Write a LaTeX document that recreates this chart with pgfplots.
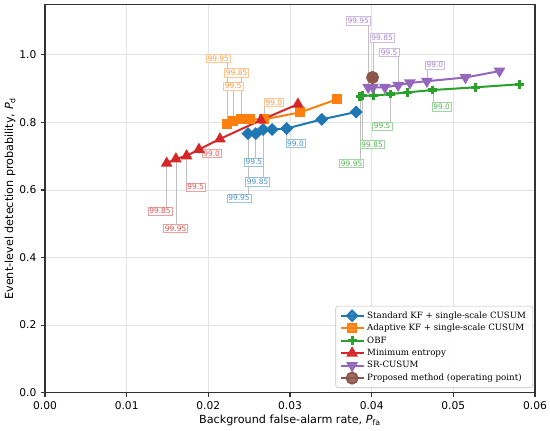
\documentclass[border=0pt]{standalone}
\usepackage{fontspec}
\setmainfont{DejaVu Sans}
\newfontfamily\legfont{DejaVu Serif}
\usepackage{pgfplots}
\pgfplotsset{compat=1.18}
\definecolor{cB}{HTML}{1F77B4}
\definecolor{cO}{HTML}{FF7F0E}
\definecolor{cG}{HTML}{2CA02C}
\definecolor{cR}{HTML}{D62728}
\definecolor{cP}{HTML}{9467BD}
\definecolor{cN}{HTML}{8C564B}
\newcommand{\leader}[3]{\draw[black!25, line width=0.5pt] (axis cs:#1,#2) -- (axis cs:#1,#3);}
\newcommand{\lab}[4]{\node[draw=#1!45, fill=white, text=#1!80!white, font=\fontsize{5.6}{6.5}\selectfont, inner sep=1pt, line width=0.4pt] at (axis cs:#2,#3) {#4};}
\begin{document}
\begin{tikzpicture}
\begin{axis}[
  scale only axis, width=367.5pt, height=291.1pt,
  xmin=0, xmax=0.06, ymin=0, ymax=1.149,
  xtick={0,0.01,0.02,0.03,0.04,0.05,0.06},
  ytick={0,0.2,0.4,0.6,0.8,1.0},
  scaled x ticks=false, scaled y ticks=false,
  /pgf/number format/assume math mode=true,
  xticklabel style={/pgf/number format/fixed, /pgf/number format/fixed zerofill, /pgf/number format/precision=2},
  yticklabel style={/pgf/number format/fixed, /pgf/number format/fixed zerofill, /pgf/number format/precision=1},
  grid=major, major grid style={black!11, line width=0.6pt},
  axis line style={black!80, line width=1pt},
  tick style={black!80, line width=0.8pt}, tick align=outside, major tick length=3pt,
  xtick pos=bottom, ytick pos=left,
  tick label style={font=\fontsize{8}{9.5}\selectfont},
  label style={font=\fontsize{8.4}{10}\selectfont},
  xlabel style={yshift=3pt},
  ylabel style={yshift=-4pt},
  xlabel={Background false-alarm rate, {\itshape P}\textsubscript{fa}},
  ylabel={Event-level detection probability, {\itshape P}\textsubscript{d}},
  legend style={at={(0.996,0.012)}, anchor=south east, font=\legfont\fontsize{6.5}{8}\selectfont, draw=black!25, rounded corners=2pt, fill=white, fill opacity=0.85, text opacity=1, row sep=-1pt},
  legend cell align=left,
]
% leader lines
\leader{0.02485}{0.767}{0.576}
\leader{0.0267}{0.779}{0.624}
\leader{0.0258}{0.767}{0.683}
\leader{0.0296}{0.782}{0.738}
\leader{0.01885}{0.720}{0.708}
\leader{0.01734}{0.701}{0.608}
\leader{0.0149}{0.679}{0.538}
\leader{0.01603}{0.692}{0.486}
\leader{0.02231}{0.796}{0.989}
\leader{0.02399}{0.809}{0.947}
\leader{0.02305}{0.803}{0.907}
\leader{0.02681}{0.809}{0.859}
\leader{0.04749}{0.896}{0.846}
\leader{0.04231}{0.884}{0.789}
\leader{0.03889}{0.879}{0.735}
\leader{0.03856}{0.876}{0.679}
\leader{0.03957}{0.904}{1.101}
\leader{0.04015}{0.904}{1.051}
\leader{0.04324}{0.910}{1.007}
\leader{0.04676}{0.922}{0.970}

\addplot[cB, line width=1.5pt, mark=square*, mark size=2.7pt, mark options={solid, rotate=45, fill=cB, draw=cB}] coordinates {
 (0.02485,0.767) (0.0258,0.767) (0.0267,0.779) (0.0278,0.779) (0.0296,0.782) (0.0339,0.809) (0.0381,0.831)};
\addlegendentry{Standard KF + single-scale CUSUM}
\addplot[cO, line width=1.5pt, mark=square*, mark size=3pt, mark options={solid, fill=cO, draw=cO}] coordinates {
 (0.02231,0.796) (0.02305,0.803) (0.02399,0.809) (0.02509,0.809) (0.02681,0.809) (0.03127,0.830) (0.0357,0.868)};
\addlegendentry{Adaptive KF + single-scale CUSUM}
\addplot[cG, line width=1.5pt, mark=+, mark size=3.3pt, mark options={solid, line width=2.4pt, draw=cG}] coordinates {
 (0.03856,0.876) (0.03889,0.879) (0.04027,0.879) (0.04231,0.884) (0.04439,0.889) (0.04749,0.896) (0.05275,0.904) (0.05814,0.913)};
\addlegendentry{OBF}
\addplot[cR, line width=1.5pt, mark=triangle*, mark size=3.6pt, mark options={solid, fill=cR, draw=cR}] coordinates {
 (0.0149,0.679) (0.01603,0.692) (0.01734,0.701) (0.01885,0.720) (0.02142,0.751) (0.02644,0.807) (0.03097,0.854)};
\addlegendentry{Minimum entropy}
\addplot[cP, line width=1.5pt, mark=triangle*, mark size=3.6pt, mark options={solid, rotate=180, fill=cP, draw=cP}] coordinates {
 (0.03957,0.904) (0.04015,0.904) (0.04162,0.904) (0.04324,0.910) (0.04468,0.917) (0.04676,0.922) (0.05149,0.933) (0.05565,0.952)};
\addlegendentry{SR-CUSUM}
\addplot[cN, line width=1.5pt, mark=*, mark size=4.1pt, mark options={solid, fill=cN, draw=cN}] coordinates {
 (0.04011,0.933)};
\addlegendentry{Proposed method (operating point)}

% labels
\lab{cB}{0.02375}{0.576}{99.95}
\lab{cB}{0.02603}{0.624}{99.85}
\lab{cB}{0.02558}{0.683}{99.5}
\lab{cB}{0.03068}{0.738}{99.0}
\lab{cR}{0.0204}{0.708}{99.0}
\lab{cR}{0.01845}{0.608}{99.5}
\lab{cR}{0.01408}{0.538}{99.85}
\lab{cR}{0.0160}{0.486}{99.95}
\lab{cO}{0.02121}{0.989}{99.95}
\lab{cO}{0.02346}{0.947}{99.85}
\lab{cO}{0.02305}{0.907}{99.5}
\lab{cO}{0.02803}{0.859}{99.0}
\lab{cG}{0.04856}{0.846}{99.0}
\lab{cG}{0.04128}{0.789}{99.5}
\lab{cG}{0.04006}{0.735}{99.85}
\lab{cG}{0.03754}{0.679}{99.95}
\lab{cP}{0.03835}{1.101}{99.95}
\lab{cP}{0.04128}{1.051}{99.85}
\lab{cP}{0.04214}{1.007}{99.5}
\lab{cP}{0.04774}{0.970}{99.0}
\end{axis}
\pgfresetboundingbox
\path ([shift={(-33.75pt,-28pt)}]current axis.south west) rectangle ([shift={(11.25pt,3.4pt)}]current axis.north east);
\end{tikzpicture}
\end{document}
